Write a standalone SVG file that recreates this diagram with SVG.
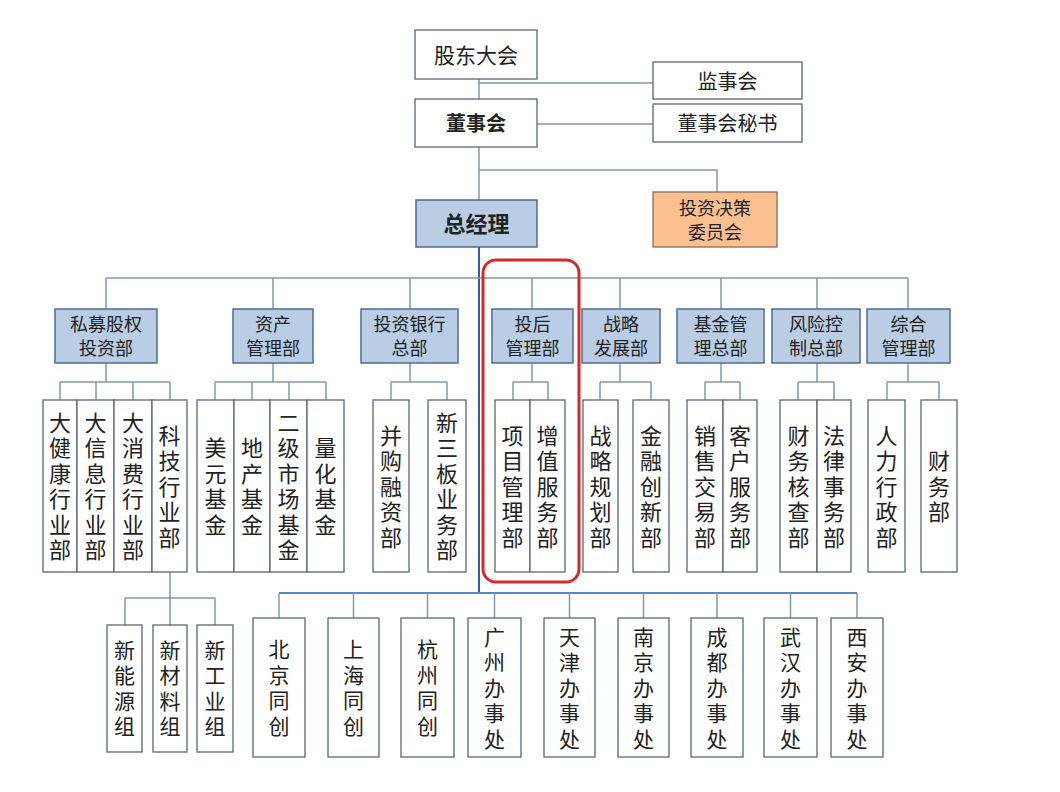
<svg xmlns="http://www.w3.org/2000/svg" width="1060" height="792" viewBox="0 0 1060 792">
<style>
text{font-family:"Noto Sans CJK SC","Noto Sans",sans-serif;fill:#222;text-anchor:middle}
.box{fill:#fff;stroke:#5d6673;stroke-width:1.3}
.dept{fill:#b9cde5;stroke:#4e6c94;stroke-width:1.5}
.ln{stroke:#8297b3;stroke-width:1.5;fill:none}
.trunk{stroke:#2f5ea8;stroke-width:2;fill:none}
.t20{font-size:20px}
.t18{font-size:18px}
.v{font-size:22px;writing-mode:vertical-rl;text-orientation:upright;letter-spacing:3.5px}
.vb{font-size:21px;writing-mode:vertical-rl;text-orientation:upright;letter-spacing:4.5px}
</style>
<rect width="1060" height="792" fill="#fff"/>
<g id="connectors">
<path class="ln" d="M479 79V99M479 83H653M537 124H653M479 147V200M479 170H717V192"/>
<path class="trunk" d="M479 247V593"/>
<path class="ln" d="M106 278H908M106 278V309M273 278V309M410 278V309M532 278V309M620 278V309M721 278V309M817 278V309M908 278V309"/>
<path class="ln" d="M106 363V382M60 382H170M60 382V400M96 382V400M133 382V400M170 382V400"/>
<path class="ln" d="M273 363V382M215 382H326M215 382V400M252 382V400M289 382V400M326 382V400"/>
<path class="ln" d="M410 363V382M391 382H447M391 382V400M447 382V400"/>
<path class="ln" d="M532 363V382M513 382H548M513 382V400M548 382V400"/>
<path class="ln" d="M620 363V382M600 382H651M600 382V400M651 382V400"/>
<path class="ln" d="M721 363V382M705 382H740M705 382V400M740 382V400"/>
<path class="ln" d="M817 363V382M798 382H834M798 382V400M834 382V400"/>
<path class="ln" d="M908 363V382M887 382H939M887 382V400M939 382V400"/>
<path class="ln" d="M170 572V598M125 598H215M125 598V625M170 598V625M215 598V625"/>
<path class="trunk" d="M279 593H857" style="stroke:#5b86c8;stroke-width:1.8"/>
<path class="ln" d="M279 593V618M353.5 593V618M427.5 593V618M494.5 593V618M569.5 593V618M643.5 593V618M717 593V618M790.5 593V618M857 593V618"/>
</g>
<g id="n-gudong"><rect class="box" x="415" y="30" width="122" height="49"/><text x="476" y="62.5" style="font-size:21px">股东大会</text></g>
<g id="n-jianshi"><rect class="box" x="653" y="62" width="149" height="37"/><text class="t20" x="727.5" y="88.5">监事会</text></g>
<g id="n-dongshi"><rect class="box" x="415" y="99" width="122" height="48"/><text class="t20" x="476" y="131" font-weight="bold">董事会</text></g>
<g id="n-mishu"><rect class="box" x="653" y="104" width="149" height="38"/><text class="t20" x="727.5" y="130.6">董事会秘书</text></g>
<g id="n-zongjingli"><rect class="dept" x="416" y="200" width="121" height="47"/><text x="476.5" y="232" font-weight="bold" style="font-size:22px">总经理</text></g>
<g id="n-touzijuece"><rect x="653" y="192" width="124" height="55" fill="#fac090" stroke="#8a6f55" stroke-width="1.3"/><text class="t18" x="715" y="214.8">投资决策</text><text class="t18" x="715" y="238.8">委员会</text></g>

<g id="d-simu"><rect class="dept" x="55" y="309" width="102" height="54"/><text class="t18" x="106" y="331">私募股权</text><text class="t18" x="106" y="355">投资部</text></g>
<g id="d-zichan"><rect class="dept" x="233" y="309" width="80" height="54"/><text class="t18" x="273" y="331">资产</text><text class="t18" x="273" y="355">管理部</text></g>
<g id="d-touhang"><rect class="dept" x="361" y="309" width="97" height="54"/><text class="t18" x="409.5" y="331">投资银行</text><text class="t18" x="409.5" y="355">总部</text></g>
<g id="d-touhou"><rect class="dept" x="492" y="309" width="81" height="54"/><text class="t18" x="532.5" y="331">投后</text><text class="t18" x="532.5" y="355">管理部</text></g>
<g id="d-zhanlue"><rect class="dept" x="582" y="309" width="78" height="54"/><text class="t18" x="621" y="331">战略</text><text class="t18" x="621" y="355">发展部</text></g>
<g id="d-jijin"><rect class="dept" x="677" y="309" width="87" height="54"/><text class="t18" x="720.5" y="331">基金管</text><text class="t18" x="720.5" y="355">理总部</text></g>
<g id="d-fengkong"><rect class="dept" x="772" y="309" width="88" height="54"/><text class="t18" x="816" y="331">风险控</text><text class="t18" x="816" y="355">制总部</text></g>
<g id="d-zonghe"><rect class="dept" x="867" y="309" width="83" height="54"/><text class="t18" x="908.5" y="331">综合</text><text class="t18" x="908.5" y="355">管理部</text></g>

<g id="s-dajiankang"><rect class="box" x="43" y="400" width="34" height="172"/><text class="v" x="60" y="488">大健康行业部</text></g>
<g id="s-daxinxi"><rect class="box" x="77" y="400" width="37" height="172"/><text class="v" x="95.5" y="488">大信息行业部</text></g>
<g id="s-daxiaofei"><rect class="box" x="114" y="400" width="38" height="172"/><text class="v" x="133" y="488">大消费行业部</text></g>
<g id="s-keji"><rect class="box" x="152" y="400" width="35" height="172"/><text class="v" x="169.5" y="488">科技行业部</text></g>
<g id="s-meiyuan"><rect class="box" x="197" y="400" width="37" height="172"/><text class="v" x="215.5" y="488">美元基金</text></g>
<g id="s-dichan"><rect class="box" x="234" y="400" width="36" height="172"/><text class="v" x="252" y="488">地产基金</text></g>
<g id="s-erji"><rect class="box" x="270" y="400" width="37" height="172"/><text class="v" x="288.5" y="488">二级市场基金</text></g>
<g id="s-lianghua"><rect class="box" x="307" y="400" width="37" height="172"/><text class="v" x="325.5" y="488">量化基金</text></g>
<g id="s-binggou"><rect class="box" x="373" y="400" width="36" height="172"/><text class="v" x="391" y="488">并购融资部</text></g>
<g id="s-xinsanban"><rect class="box" x="428" y="400" width="38" height="172"/><text class="v" x="447" y="488">新三板业务部</text></g>
<g id="s-xiangmu"><rect class="box" x="495" y="400" width="35" height="172"/><text class="v" x="512.5" y="488">项目管理部</text></g>
<g id="s-zengzhi"><rect class="box" x="530" y="400" width="35" height="172"/><text class="v" x="547.5" y="488">增值服务部</text></g>
<g id="s-zhanlueguihua"><rect class="box" x="583" y="400" width="35" height="172"/><text class="v" x="600.5" y="488">战略规划部</text></g>
<g id="s-jinrong"><rect class="box" x="633" y="400" width="36" height="172"/><text class="v" x="651" y="488">金融创新部</text></g>
<g id="s-xiaoshou"><rect class="box" x="687" y="400" width="36" height="172"/><text class="v" x="705" y="488">销售交易部</text></g>
<g id="s-kehu"><rect class="box" x="723" y="400" width="34" height="172"/><text class="v" x="740" y="488">客户服务部</text></g>
<g id="s-caiwuhecha"><rect class="box" x="780" y="400" width="37" height="172"/><text class="v" x="798.5" y="488">财务核查部</text></g>
<g id="s-falv"><rect class="box" x="817" y="400" width="34" height="172"/><text class="v" x="834" y="488">法律事务部</text></g>
<g id="s-renli"><rect class="box" x="868" y="400" width="37" height="172"/><text class="v" x="886.5" y="488">人力行政部</text></g>
<g id="s-caiwu"><rect class="box" x="921" y="400" width="36" height="172"/><text class="v" x="939" y="488">财务部</text></g>

<g id="g-xinnengyuan"><rect class="box" x="107" y="625" width="35" height="127"/><text class="vb" x="124.5" y="690.5">新能源组</text></g>
<g id="g-xincailiao"><rect class="box" x="153" y="625" width="34" height="127"/><text class="vb" x="170" y="690.5">新材料组</text></g>
<g id="g-xingongye"><rect class="box" x="197" y="625" width="36" height="127"/><text class="vb" x="215" y="690.5">新工业组</text></g>

<g id="o-beijing"><rect class="box" x="253" y="618" width="52" height="139"/><text class="vb" x="279" y="690">北京同创</text></g>
<g id="o-shanghai"><rect class="box" x="328" y="618" width="51" height="139"/><text class="vb" x="353.5" y="690">上海同创</text></g>
<g id="o-hangzhou"><rect class="box" x="401" y="618" width="53" height="139"/><text class="vb" x="427.5" y="690">杭州同创</text></g>
<g id="o-guangzhou"><rect class="box" x="468" y="618" width="53" height="139"/><text class="vb" x="494.5" y="690">广州办事处</text></g>
<g id="o-tianjin"><rect class="box" x="544" y="618" width="51" height="139"/><text class="vb" x="569.5" y="690">天津办事处</text></g>
<g id="o-nanjing"><rect class="box" x="618" y="618" width="51" height="139"/><text class="vb" x="643.5" y="690">南京办事处</text></g>
<g id="o-chengdu"><rect class="box" x="691" y="618" width="52" height="139"/><text class="vb" x="717" y="690">成都办事处</text></g>
<g id="o-wuhan"><rect class="box" x="764" y="618" width="53" height="139"/><text class="vb" x="790.5" y="690">武汉办事处</text></g>
<g id="o-xian"><rect class="box" x="831" y="618" width="52" height="139"/><text class="vb" x="857" y="690">西安办事处</text></g>

<g id="highlight"><rect x="483" y="260" width="96" height="322" rx="13" fill="none" stroke="#d42a2a" stroke-width="3"/></g>
</svg>
